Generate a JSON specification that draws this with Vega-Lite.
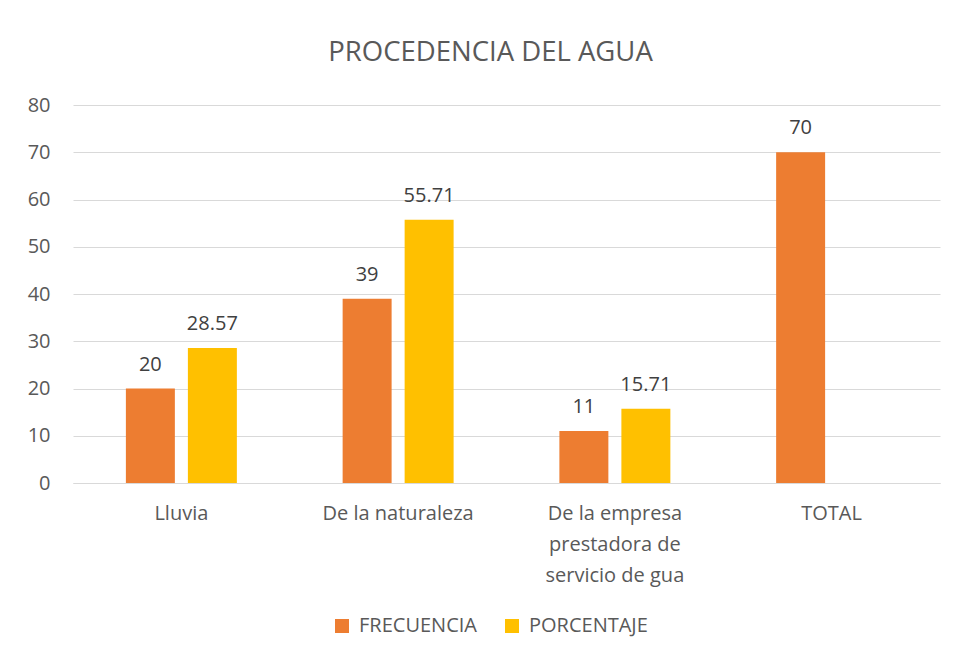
{
  "$schema": "https://vega.github.io/schema/vega-lite/v6.json",
  "width": 867,
  "height": 378,
  "autosize": {"type": "none"},
  "padding": {"left": 73, "top": 105, "right": 15, "bottom": 174},
  "background": "white",
  "config": {
    "font": "Open Sans",
    "view": {"stroke": null}
  },
  "title": {
    "text": "PROCEDENCIA DEL AGUA",
    "fontSize": 27.5,
    "font": "Open Sans",
    "fontWeight": "normal",
    "color": "#595959",
    "anchor": "middle",
    "baseline": "alphabetic",
    "offset": 7,
    "dx": -16
  },
  "data": {
    "values": [
      {"categoria": "Lluvia", "serie": "FRECUENCIA", "valor": 20, "etiqueta": "20"},
      {"categoria": "Lluvia", "serie": "PORCENTAJE", "valor": 28.57, "etiqueta": "28.57"},
      {"categoria": "De la naturaleza", "serie": "FRECUENCIA", "valor": 39, "etiqueta": "39"},
      {"categoria": "De la naturaleza", "serie": "PORCENTAJE", "valor": 55.71, "etiqueta": "55.71"},
      {"categoria": "De la empresa prestadora de servicio de gua", "serie": "FRECUENCIA", "valor": 11, "etiqueta": "11"},
      {"categoria": "De la empresa prestadora de servicio de gua", "serie": "PORCENTAJE", "valor": 15.71, "etiqueta": "15.71"},
      {"categoria": "TOTAL", "serie": "FRECUENCIA", "valor": 70, "etiqueta": "70"}
    ]
  },
  "encoding": {
    "x": {
      "field": "categoria",
      "type": "nominal",
      "sort": null,
      "scale": {"paddingInner": 0, "paddingOuter": 0},
      "axis": {
        "title": null,
        "labelAngle": 0,
        "labelFont": "Open Sans",
        "labelFontSize": 20,
        "labelColor": "#595959",
        "labelPadding": 20,
        "labelLineHeight": 31,
        "labelBaseline": "top",
        "ticks": false,
        "domainColor": "#D9D9D9",
        "domainWidth": 1,
        "labelExpr": "datum.label == 'De la empresa prestadora de servicio de gua' ? ['De la empresa', 'prestadora de', 'servicio de gua'] : datum.label"
      }
    },
    "xOffset": {
      "field": "serie",
      "type": "nominal",
      "sort": ["FRECUENCIA", "PORCENTAJE"],
      "scale": {"domain": ["FRECUENCIA", "PORCENTAJE"], "paddingInner": 0.21, "paddingOuter": 0.853}
    },
    "y": {
      "field": "valor",
      "type": "quantitative",
      "scale": {"domain": [0, 80], "nice": false},
      "axis": {
        "title": null,
        "values": [0, 10, 20, 30, 40, 50, 60, 70, 80],
        "labelFont": "Open Sans",
        "labelFontSize": 20,
        "labelColor": "#595959",
        "labelPadding": 23,
        "ticks": false,
        "domain": false,
        "gridColor": "#D9D9D9",
        "gridWidth": 1
      }
    }
  },
  "layer": [
    {
      "mark": {"type": "bar"},
      "encoding": {
        "color": {
          "field": "serie",
          "type": "nominal",
          "scale": {"domain": ["FRECUENCIA", "PORCENTAJE"], "range": ["#ED7D31", "#FFC000"]},
          "legend": {
            "title": null,
            "orient": "none",
            "direction": "horizontal",
            "legendX": 259,
            "legendY": 511,
            "symbolType": "square",
            "symbolSize": 196,
            "symbolStrokeWidth": 0,
            "labelFont": "Open Sans",
            "labelFontSize": 20,
            "labelColor": "#595959",
            "columnPadding": 25,
            "labelOffset": 7
          }
        }
      }
    },
    {
      "mark": {"type": "text", "baseline": "alphabetic", "dy": -18, "fontSize": 20, "font": "Open Sans", "color": "#404040"},
      "encoding": {
        "text": {"field": "etiqueta", "type": "nominal"}
      }
    }
  ]
}
